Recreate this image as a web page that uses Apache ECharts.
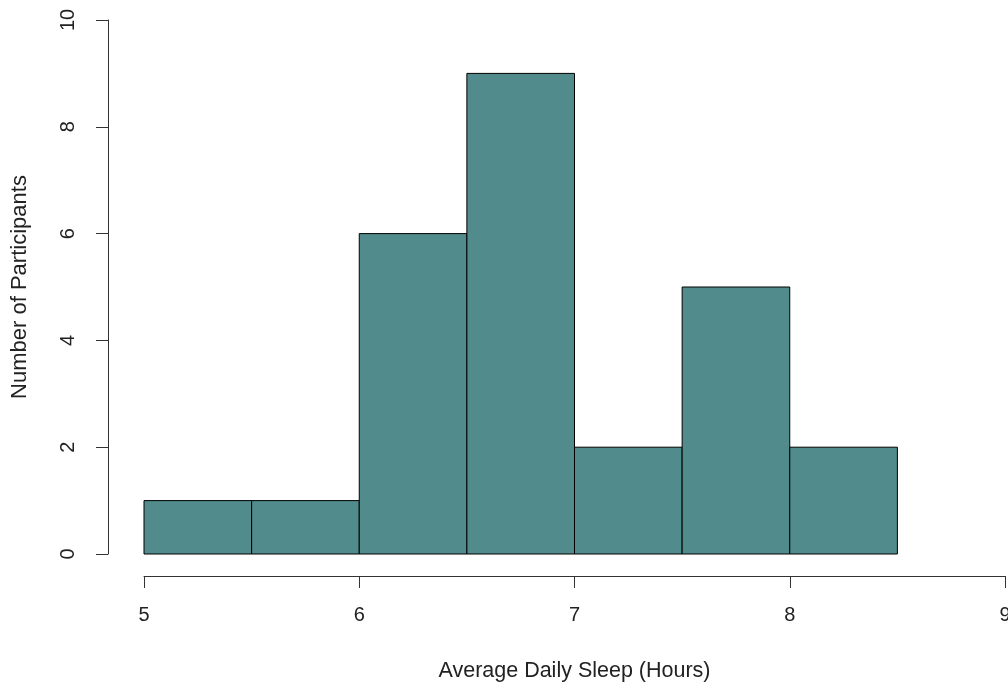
<!DOCTYPE html>
<html><head><meta charset="utf-8">
<script src="https://cdn.jsdelivr.net/npm/echarts@6/dist/echarts.min.js"></script>
<style>html,body{margin:0;padding:0;background:#fff}#c{width:1008px;height:682px}</style>
</head><body><div id="c"></div>
<script>
const binStarts = [5.0, 5.5, 6.0, 6.5, 7.0, 7.5, 8.0];
const binEnds   = [5.5, 6.0, 6.5, 7.0, 7.5, 8.0, 8.5];
const counts    = [1, 1, 6, 9, 2, 5, 2];
const xTicks = [5, 6, 7, 8, 9];
const yTicks = [0, 2, 4, 6, 8, 10];

const data = binStarts.map((s, i) => [s, binEnds[i], counts[i]]);
const chart = echarts.init(document.getElementById('c'));
const font = 'Liberation Sans, Arial, sans-serif';
chart.setOption({
  animation: false,
  grid: { left: 144, right: 3, top: 20, bottom: 128, containLabel: false, outerBoundsMode: 'none' },
  xAxis: {
    type: 'value', min: 5, max: 9, interval: 1, offset: 22,
    name: 'Average Daily Sleep (Hours)', nameLocation: 'middle', nameGap: 84,
    nameTextStyle: { fontFamily: font, fontSize: 21.5, color: '#222' },
    axisLine: { show: true, onZero: false, lineStyle: { color: '#333', width: 1 } },
    axisTick: { show: true, inside: false, length: 12, lineStyle: { color: '#333' } },
    axisLabel: { fontFamily: font, fontSize: 20, color: '#222', margin: 29 },
    splitLine: { show: false }
  },
  yAxis: {
    type: 'value', min: 0, max: 10, interval: 2, offset: 36,
    name: 'Number of Participants', nameLocation: 'middle', nameGap: 77,
    nameTextStyle: { fontFamily: font, fontSize: 22, color: '#222' },
    axisLine: { show: true, onZero: false, lineStyle: { color: '#333', width: 1 } },
    axisTick: { show: true, length: 12, lineStyle: { color: '#333' } },
    axisLabel: { fontFamily: font, fontSize: 20, color: '#222', rotate: 90, margin: 30 },
    splitLine: { show: false }
  },
  series: [{
    type: 'custom',
    data: data,
    encode: { x: [0, 1], y: 2 },
    renderItem: function (params, api) {
      const p0 = api.coord([api.value(0), 0]);
      const p1 = api.coord([api.value(1), api.value(2)]);
      return {
        type: 'rect',
        shape: { x: p0[0], y: p1[1], width: p1[0] - p0[0], height: p0[1] - p1[1] },
        style: { fill: '#528B8B', stroke: '#000', lineWidth: 1 }
      };
    }
  }]
});
</script></body></html>
